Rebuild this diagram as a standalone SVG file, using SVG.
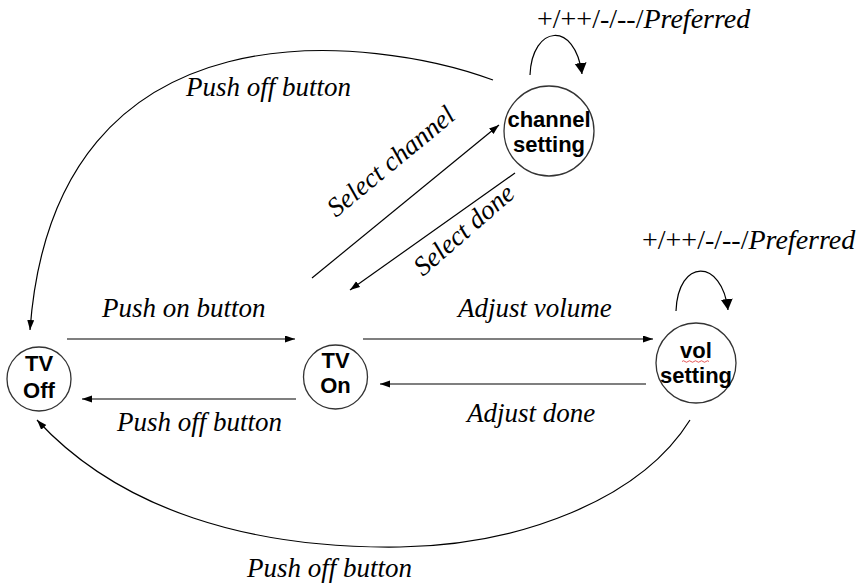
<svg xmlns="http://www.w3.org/2000/svg" width="861" height="584" viewBox="0 0 861 584">
<defs>
<marker id="arr" markerUnits="userSpaceOnUse" markerWidth="11" markerHeight="8" refX="10" refY="3.5" orient="auto"><path d="M0,0 L10,3.5 L0,7 z" fill="#000"/></marker>
<marker id="arrBig" markerUnits="userSpaceOnUse" markerWidth="12" markerHeight="13" refX="11" refY="6" orient="auto"><path d="M0,0 L11,6 L0,12 z" fill="#000"/></marker>
<style>
.node circle{fill:#fff;stroke:#333;stroke-width:1.3}
.node text{font-family:"Liberation Sans",Arial,sans-serif;font-weight:bold;font-size:22px;text-anchor:middle;fill:#000}
.conn path,.conn line{fill:none;stroke:#000;stroke-width:1.2}
.lbl{font-family:"Liberation Serif","Times New Roman",serif;font-style:italic;font-size:27px;fill:#000}
.pref{font-size:28px}
.up{font-style:normal}
</style>
</defs>
<rect width="861" height="584" fill="#fff"/>
<g id="connectors" class="conn">
<line x1="67" y1="339" x2="295" y2="339" marker-end="url(#arr)"/>
<line x1="296" y1="399" x2="82" y2="399" marker-end="url(#arr)"/>
<line x1="363" y1="339" x2="653" y2="339" marker-end="url(#arr)"/>
<line x1="646" y1="384" x2="380" y2="384" marker-end="url(#arr)"/>
<line x1="312" y1="278" x2="499" y2="125" marker-end="url(#arr)"/>
<line x1="515" y1="173" x2="350" y2="290" marker-end="url(#arr)"/>
<path d="M493,80 C380,38 55,-10 30,330" marker-end="url(#arr)"/>
<path d="M690,420 C640,500 520,545 400,547 C250,549 120,510 37,420" marker-end="url(#arr)"/>
<path d="M530,75 C532,25 575,20 582,74" marker-end="url(#arrBig)"/>
<path d="M676,311 C678,258 722,258 728,310" marker-end="url(#arrBig)"/>
</g>
<g id="labels">
<text class="lbl" x="186" y="96">Push off button</text>
<text class="lbl" x="102" y="317">Push on button</text>
<text class="lbl" x="117" y="431">Push off button</text>
<text class="lbl" x="458" y="317">Adjust volume</text>
<text class="lbl" x="467" y="422">Adjust done</text>
<text class="lbl" x="247" y="577">Push off button</text>
<text class="lbl" transform="translate(336,218) rotate(-39.5)">Select channel</text>
<text class="lbl" transform="translate(423,277) rotate(-41)">Select done</text>
<text class="lbl pref" x="537" y="28"><tspan class="up">+/++/-/--/</tspan>Preferred</text>
<text class="lbl pref" x="642" y="249"><tspan class="up">+/++/-/--/</tspan>Preferred</text>
</g>
<g id="tv-off" class="node">
<circle cx="39" cy="379" r="32"/>
<text x="39" y="371">TV</text>
<text x="39" y="398">Off</text>
</g>
<g id="tv-on" class="node">
<circle cx="335.5" cy="377" r="32"/>
<text x="335.5" y="368">TV</text>
<text x="335.5" y="393">On</text>
</g>
<g id="channel-setting" class="node">
<circle cx="549" cy="131" r="45"/>
<text x="549" y="127">channel</text>
<text x="549" y="152">setting</text>
</g>
<g id="vol-setting" class="node">
<circle cx="696" cy="363" r="40"/>
<text x="696" y="358">vol</text>
<text x="696" y="383">setting</text>
<path d="M682,361.5 q1.5,-1.5 3,0 t3,0 t3,0 t3,0 t3,0 t3,0 t3,0 t3,0 t3,0" fill="none" stroke="#e03030" stroke-width="0.8"/>
</g>
</svg>
